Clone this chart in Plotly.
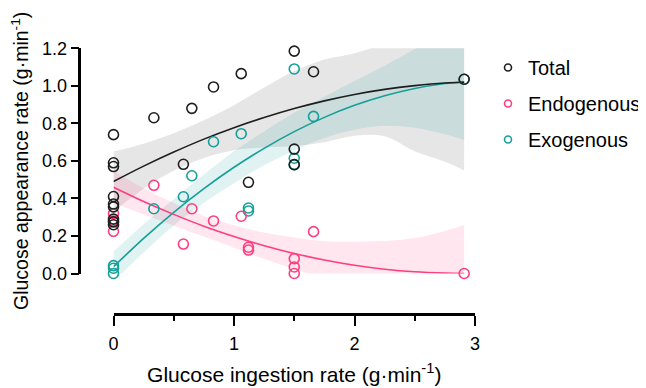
import plotly.graph_objects as go

# ---------------- data ----------------
tot_x = [0, 0, 0, 0, 0, 0, 0, 0, 0, 0.335, 0.58, 0.65, 0.83, 1.06, 1.12, 1.5, 1.5, 1.5, 1.66, 2.91]
tot_y = [0.74, 0.59, 0.57, 0.41, 0.37, 0.355, 0.29, 0.275, 0.26, 0.83, 0.582, 0.88, 0.994, 1.065, 0.486, 1.185, 0.663, 0.58, 1.075, 1.035]

end_x = [0, 0, 0, 0.335, 0.58, 0.65, 0.83, 1.06, 1.12, 1.12, 1.5, 1.5, 1.5, 1.66, 2.91]
end_y = [0.32, 0.28, 0.225, 0.47, 0.157, 0.345, 0.28, 0.305, 0.14, 0.125, 0.079, 0.035, 0.0, 0.223, 0.0]

exo_x = [0, 0, 0, 0.335, 0.58, 0.65, 0.83, 1.06, 1.12, 1.12, 1.5, 1.5, 1.5, 1.66, 2.91]
exo_y = [0.042, 0.028, 0.0, 0.345, 0.409, 0.521, 0.702, 0.745, 0.349, 0.333, 1.09, 0.614, 0.58, 0.837, 1.035]

# fitted curves and 95% bands
fit_x = [0, 0.25, 0.5, 0.75, 1, 1.25, 1.5, 1.75, 2, 2.25, 2.5, 2.75, 2.91]
tot_fit = [0.49, 0.572, 0.647, 0.716, 0.777, 0.831, 0.879, 0.920, 0.954, 0.981, 1.001, 1.015, 1.019]
tot_lo = [0.33, 0.452, 0.547, 0.616, 0.657, 0.671, 0.679, 0.70, 0.734, 0.731, 0.651, 0.595, 0.549]
tot_hi = [0.65, 0.692, 0.747, 0.816, 0.897, 0.991, 1.079, 1.14, 1.174, 1.231, 1.351, 1.435, 1.489]

exo_fit = [0.036, 0.187, 0.326, 0.452, 0.566, 0.667, 0.756, 0.832, 0.896, 0.947, 0.986, 1.012, 1.022]
exo_lo = [-0.044, 0.112, 0.256, 0.377, 0.481, 0.577, 0.656, 0.722, 0.766, 0.787, 0.776, 0.742, 0.712]
exo_hi = [0.116, 0.262, 0.396, 0.527, 0.651, 0.757, 0.856, 0.942, 1.026, 1.107, 1.196, 1.282, 1.332]

end_fit = [0.46, 0.384, 0.315, 0.252, 0.197, 0.148, 0.107, 0.072, 0.044, 0.023, 0.009, 0.002, 0.0]
end_lo = [0.375, 0.314, 0.255, 0.197, 0.137, 0.078, 0.022, -0.028, -0.081, -0.127, -0.171, -0.223, -0.26]
end_hi = [0.545, 0.454, 0.375, 0.307, 0.257, 0.218, 0.192, 0.172, 0.169, 0.173, 0.189, 0.227, 0.26]

names = ["Total", "Endogenous", "Exogenous"]
x_ticks = [0, 1, 2, 3]
y_ticks = [0, 0.2, 0.4, 0.6, 0.8, 1.0, 1.2]

# ---------------- style ----------------
OFF = 8  # page body margin
W, H = 646 - OFF, 388 - OFF
BLACK = "#1e1e1e"
PINK = "#ff3d7f"
TEAL = "#159f99"
FONT = "Liberation Sans, Arial, sans-serif"


def px_x(sx):
    return (sx - OFF) / W


def px_y(sy):
    return (H - (sy - OFF)) / H


fig = go.Figure()


def band(xs, lo, hi, fillcolor):
    fig.add_trace(go.Scatter(x=xs, y=lo, mode="lines", line=dict(width=0, shape="spline"),
                             showlegend=False, hoverinfo="skip"))
    fig.add_trace(go.Scatter(x=xs, y=hi, mode="lines", line=dict(width=0, shape="spline"),
                             fill="tonexty", fillcolor=fillcolor, showlegend=False, hoverinfo="skip"))


band(fit_x, tot_lo, tot_hi, "rgba(128,128,128,0.2)")
band(fit_x, exo_lo, exo_hi, "rgba(0,150,140,0.12)")
band(fit_x, end_lo, end_hi, "rgba(255,60,130,0.13)")

for ys, c in [(exo_fit, TEAL), (end_fit, PINK), (tot_fit, BLACK)]:
    fig.add_trace(go.Scatter(x=fit_x, y=ys, mode="lines", line=dict(color=c, width=1.6, shape="spline"),
                             showlegend=False, hoverinfo="skip"))

for xs, ys, c in [(exo_x, exo_y, TEAL), (end_x, end_y, PINK), (tot_x, tot_y, BLACK)]:
    fig.add_trace(go.Scatter(x=xs, y=ys, mode="markers", cliponaxis=False, showlegend=False,
                             marker=dict(symbol="circle-open", size=10, color=c, line=dict(width=1.6, color=c))))

# legend entries
for i, (n, c) in enumerate(zip(names, [BLACK, PINK, TEAL])):
    fig.add_trace(go.Scatter(x=[None], y=[None], mode="markers", name=n, legendgroup=n,
                             marker=dict(symbol="circle-open", size=7, color=c, line=dict(width=1.6, color=c))))

axis_common = dict(showline=True, linecolor="black", linewidth=2.5, ticks="outside", tickwidth=2,
                   tickcolor="black", showgrid=False, zeroline=False, automargin=False,
                   tickfont=dict(family=FONT, size=18, color="black"))

fig.update_layout(
    width=W, height=H,
    margin=dict(l=0, r=0, t=0, b=0, autoexpand=False),
    paper_bgcolor="white", plot_bgcolor="rgba(0,0,0,0)",
    font=dict(family=FONT, color="black"),
    xaxis=dict(domain=[px_x(113.5), px_x(475)], range=[0, 3], anchor="free", position=px_y(314),
               tickvals=x_ticks, ticklen=10, ticklabelstandoff=3,
               minor=dict(ticks="outside", ticklen=5, tickwidth=2, tickcolor="black", dtick=0.5),
               title=dict(text="Glucose ingestion rate (g·min<sup>-1</sup>)",
                          font=dict(family=FONT, size=21, color="black"), standoff=13),
               **axis_common),
    yaxis=dict(domain=[px_y(273.5), px_y(48.3)], range=[0, 1.2], anchor="free", position=px_x(79.3),
               tickvals=y_ticks, tickformat=".1f", ticklen=8,
               title=dict(text="Glucose appearance rate (g·min<sup>-1</sup>)",
                          font=dict(family=FONT, size=19.5, color="black"), standoff=10),
               **axis_common),
    legend=dict(x=1, xanchor="right", y=px_y(48), yanchor="top",
                traceorder="grouped", tracegroupgap=7,
                font=dict(family=FONT, size=20, color="black"), bgcolor="rgba(0,0,0,0)"),
    showlegend=True,
)

fig.write_html("out.html")
